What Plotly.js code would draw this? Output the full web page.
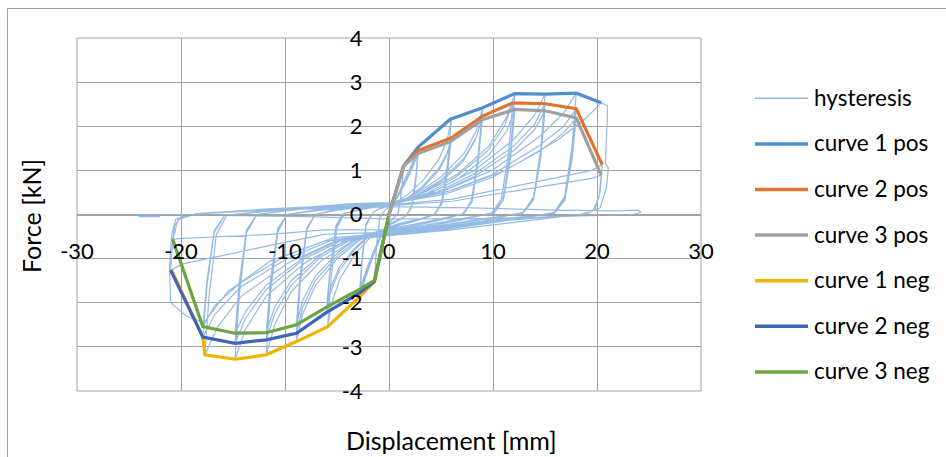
<!DOCTYPE html>
<html>
<head>
<meta charset="utf-8">
<script src="https://cdn.plot.ly/plotly-3.0.1.min.js"></script>
<style>
  html, body { margin: 0; padding: 0; background: #fff; }
  #chart { width: 946px; height: 457px; }
</style>
</head>
<body>
<div id="chart"></div>
<script>
// Cyclic test: displacement [mm] vs force [kN], one row per loading cycle
const hysteresisX = [
  [0, 0.5, 1.0, 1.4, 1.2, 0.9, 0.4, 0, -0.5, -1.0, -1.4, -1.2, -0.9, -0.4, 0],
  [0.5, 1.0, 1.4, 1.2, 0.9, 0.4, 0, -0.5, -1.0, -1.4, -1.2, -0.9, -0.4, 0],
  [0.5, 1.0, 1.4, 1.2, 0.9, 0.4, 0, -0.5, -1.0, -1.4, -1.2, -0.9, -0.4, 0],
  [0.8, 1.5, 2.2, 2.8, 2.6, 2.2, 1.6, 0.8, 0, -0.8, -1.5, -2.2, -2.8, -2.6, -2.2, -1.5, -0.8, 0],
  [0.8, 1.5, 2.2, 2.8, 2.6, 2.2, 1.6, 0.8, 0, -0.8, -1.5, -2.2, -2.8, -2.6, -2.2, -1.5, -0.8, 0],
  [0.8, 1.5, 2.2, 2.8, 2.6, 2.2, 1.6, 0.8, 0, -0.8, -1.5, -2.2, -2.8, -2.6, -2.2, -1.5, -0.8, 0],
  [1.8, 3.3, 4.8, 5.6, 6.0, 5.65, 5.1, 4.4, 3.0, 1.0, 0, -1.8, -3.2, -4.7, -5.5, -5.9, -5.55, -5.0, -4.3, -3.0, -1.0, 0],
  [1.8, 3.3, 4.8, 5.6, 6.0, 5.65, 5.1, 4.4, 3.0, 1.0, 0, -1.8, -3.3, -4.8, -5.6, -6.0, -5.65, -5.1, -4.4, -3.0, -1.0, 0],
  [1.8, 3.3, 4.8, 5.5, 5.9, 5.55, 5.0, 4.3, 3.0, 1.0, 0, -1.8, -3.3, -4.8, -5.6, -6.0, -5.65, -5.1, -4.4, -3.0, -1.0, 0],
  [2.7, 5.0, 7.2, 8.4, 9.0, 8.6, 8.0, 7.2, 5.0, 2.0, 0, -2.7, -4.9, -7.1, -8.3, -8.9, -8.55, -7.9, -7.1, -5.0, -2.0, 0],
  [2.7, 5.0, 7.2, 8.4, 9.0, 8.6, 8.0, 7.2, 5.0, 2.0, 0, -2.7, -4.9, -7.1, -8.3, -8.9, -8.55, -7.9, -7.1, -5.0, -2.0, 0],
  [2.7, 5.0, 7.1, 8.3, 8.9, 8.5, 7.9, 7.1, 5.0, 2.0, 0, -2.7, -4.9, -7.1, -8.3, -8.9, -8.55, -7.9, -7.1, -5.0, -2.0, 0],
  [3.6, 6.6, 9.6, 11.3, 12.1, 11.7, 11.0, 10.1, 7.0, 3.0, 0, -3.5, -6.5, -9.4, -11.0, -11.8, -11.4, -10.7, -9.8, -6.5, -3.0, 0],
  [3.6, 6.5, 9.5, 11.1, 11.9, 11.5, 10.8, 9.9, 7.0, 3.0, 0, -3.5, -6.5, -9.4, -11.0, -11.8, -11.4, -10.7, -9.8, -6.5, -3.0, 0],
  [3.6, 6.6, 9.6, 11.3, 12.1, 11.7, 11.0, 10.1, 7.0, 3.0, 0, -3.5, -6.5, -9.4, -11.0, -11.8, -11.4, -10.7, -9.8, -6.5, -3.0, 0],
  [4.5, 8.2, 12.0, 14.0, 15.0, 14.6, 13.9, 12.9, 9.0, 4.0, 0, -4.4, -8.1, -11.8, -13.8, -14.8, -14.4, -13.7, -12.7, -8.5, -4.0, 0],
  [4.5, 8.2, 12.0, 14.0, 15.0, 14.6, 13.9, 12.9, 9.0, 4.0, 0, -4.4, -8.1, -11.8, -13.8, -14.8, -14.4, -13.7, -12.7, -8.5, -4.0, 0],
  [4.5, 8.2, 12.0, 14.0, 15.0, 14.6, 13.9, 12.9, 9.0, 4.0, 0, -4.4, -8.1, -11.8, -13.8, -14.8, -14.4, -13.7, -12.7, -8.5, -4.0, 0],
  [5.4, 9.9, 14.4, 16.8, 18.0, 17.6, 16.9, 15.9, 11.0, 5.0, 0, -5.3, -9.7, -14.2, -16.5, -17.7, -17.3, -16.6, -15.6, -10.5, -5.0, 0],
  [5.4, 9.9, 14.4, 16.8, 18.0, 17.6, 16.9, 15.9, 11.0, 5.0, 0, -5.4, -9.8, -14.3, -16.7, -17.9, -17.5, -16.8, -15.8, -10.5, -5.0, 0],
  [5.4, 9.9, 14.4, 16.8, 18.0, 17.6, 16.9, 15.9, 11.0, 5.0, 0, -5.4, -9.8, -14.3, -16.7, -17.9, -17.5, -16.8, -15.8, -10.5, -5.0, 0],
  [6.1, 11.2, 16.3, 19.0, 20.4, 21.0, 21.0, 20.8, 21.1, 20.9, 20.3, 19.0, 13.0, 6.0, 0, -6.2, -11.4, -15.5, -17.8, -19.5, -21.0, -21.1, -20.9, -20.5, -18.5, -12.0, -5.0, 0],
  [6.1, 11.2, 16.3, 19.5, 20.5, 20.3, 19.8, 18.5, 12.0, 5.0, 0, -6.2, -11.4, -16.5, -19.8, -21.0, -20.8, -20.3, -18.5, -12.0, -5.0, 0],
  [6.1, 11.2, 16.3, 19.5, 20.4, 20.2, 19.6, 18.3, 12.0, 5.0, 0, -6.2, -11.4, -16.5, -19.8, -20.8, -20.6, -20.0, -18.0, -12.0, -5.0, 0],
  [8.0, 16.0, 22.0, 24.0, 24.2, 23.5, 16.0, 8.0, 0, -8.0, -16.0, -22.0, -24.2, -24.0, -22.0]
];
const hysteresisY = [
  [0, 0.42, 0.82, 1.10, 0.55, 0.05, -0.1, -0.18, -0.6, -1.1, -1.50, -0.75, -0.08, 0.1, 0.15],
  [0.4, 0.78, 1.08, 0.52, 0.05, -0.1, -0.2, -0.55, -1.05, -1.52, -0.72, -0.08, 0.1, 0.16],
  [0.38, 0.75, 1.06, 0.5, 0.04, -0.1, -0.2, -0.52, -1.0, -1.49, -0.7, -0.07, 0.1, 0.16],
  [0.42, 0.78, 1.15, 1.53, 0.9, 0.2, -0.04, -0.15, -0.25, -0.52, -0.92, -1.4, -1.86, -1.1, -0.25, 0.05, 0.15, 0.2],
  [0.4, 0.72, 1.08, 1.45, 0.85, 0.18, -0.04, -0.14, -0.24, -0.5, -0.88, -1.33, -1.77, -1.05, -0.22, 0.05, 0.14, 0.19],
  [0.38, 0.68, 1.02, 1.38, 0.8, 0.16, -0.04, -0.13, -0.22, -0.48, -0.84, -1.27, -1.69, -1.0, -0.2, 0.05, 0.14, 0.18],
  [0.45, 0.78, 1.25, 1.7, 2.16, 1.2, 0.3, 0.0, -0.12, -0.25, -0.32, -0.52, -0.88, -1.45, -2.0, -2.54, -1.4, -0.3, 0.02, 0.12, 0.22, 0.25],
  [0.38, 0.66, 1.05, 1.4, 1.74, 1.0, 0.25, 0.0, -0.1, -0.22, -0.3, -0.46, -0.8, -1.28, -1.75, -2.22, -1.28, -0.28, 0.02, 0.1, 0.2, 0.22],
  [0.35, 0.62, 1.0, 1.32, 1.65, 0.95, 0.22, 0.0, -0.1, -0.2, -0.28, -0.44, -0.76, -1.2, -1.65, -2.10, -1.2, -0.25, 0.02, 0.1, 0.18, 0.2],
  [0.48, 0.85, 1.38, 1.9, 2.42, 1.35, 0.35, 0.02, -0.12, -0.28, -0.38, -0.56, -0.98, -1.62, -2.25, -2.88, -1.6, -0.35, 0.0, 0.12, 0.22, 0.25],
  [0.44, 0.78, 1.27, 1.75, 2.23, 1.25, 0.3, 0.02, -0.1, -0.25, -0.35, -0.52, -0.92, -1.5, -2.1, -2.69, -1.5, -0.32, 0.0, 0.1, 0.2, 0.22],
  [0.42, 0.74, 1.2, 1.68, 2.14, 1.2, 0.28, 0.02, -0.1, -0.24, -0.33, -0.48, -0.86, -1.4, -1.95, -2.5, -1.4, -0.3, 0.0, 0.1, 0.18, 0.2],
  [0.52, 0.92, 1.55, 2.2, 2.74, 1.5, 0.4, 0.05, -0.12, -0.3, -0.42, -0.6, -1.05, -1.75, -2.5, -3.18, -1.8, -0.4, 0.0, 0.12, 0.22, 0.25],
  [0.47, 0.86, 1.45, 2.0, 2.53, 1.4, 0.35, 0.03, -0.1, -0.28, -0.4, -0.55, -0.95, -1.6, -2.25, -2.84, -1.6, -0.35, 0.0, 0.1, 0.2, 0.22],
  [0.44, 0.8, 1.35, 1.88, 2.38, 1.3, 0.32, 0.03, -0.1, -0.26, -0.38, -0.52, -0.9, -1.5, -2.1, -2.68, -1.5, -0.32, 0.0, 0.1, 0.18, 0.2],
  [0.55, 1.0, 1.7, 2.25, 2.73, 1.5, 0.4, 0.05, -0.15, -0.32, -0.45, -0.62, -1.1, -1.85, -2.6, -3.28, -1.85, -0.42, 0.0, 0.14, 0.24, 0.27],
  [0.5, 0.92, 1.55, 2.05, 2.51, 1.4, 0.36, 0.03, -0.12, -0.3, -0.42, -0.57, -1.0, -1.7, -2.35, -2.92, -1.65, -0.38, 0.0, 0.12, 0.22, 0.24],
  [0.47, 0.86, 1.45, 1.92, 2.35, 1.3, 0.33, 0.03, -0.1, -0.28, -0.4, -0.54, -0.95, -1.6, -2.2, -2.69, -1.55, -0.35, 0.0, 0.12, 0.2, 0.22],
  [0.55, 1.0, 1.75, 2.3, 2.75, 1.55, 0.42, 0.05, -0.15, -0.35, -0.48, -0.62, -1.1, -1.85, -2.55, -3.18, -1.85, -0.45, -0.02, 0.12, 0.22, 0.26],
  [0.5, 0.9, 1.55, 2.0, 2.4, 1.35, 0.36, 0.03, -0.12, -0.32, -0.45, -0.57, -1.0, -1.65, -2.25, -2.78, -1.6, -0.4, -0.02, 0.1, 0.2, 0.24],
  [0.46, 0.84, 1.42, 1.85, 2.19, 1.25, 0.32, 0.03, -0.1, -0.3, -0.42, -0.53, -0.92, -1.55, -2.05, -2.54, -1.5, -0.37, -0.02, 0.1, 0.18, 0.22],
  [0.55, 1.0, 1.7, 2.2, 2.53, 2.47, 2.2, 1.16, 1.05, 0.6, 0.15, 0.02, -0.15, -0.35, -0.48, -0.6, -1.05, -1.75, -2.45, -2.3, -2.0, -1.2, -0.45, -0.1, 0.02, 0.12, 0.2, 0.22],
  [0.35, 0.6, 0.85, 1.0, 1.13, 0.5, 0.1, 0.0, -0.12, -0.3, -0.4, -0.45, -0.7, -0.95, -1.12, -1.26, -0.6, -0.12, 0.02, 0.1, 0.18, 0.2],
  [0.3, 0.5, 0.7, 0.82, 0.89, 0.4, 0.08, 0.0, -0.1, -0.28, -0.35, -0.35, -0.45, -0.5, -0.54, -0.56, -0.25, -0.05, 0.02, 0.1, 0.15, 0.18],
  [0.15, 0.1, 0.08, 0.1, 0.05, 0.0, -0.05, -0.1, -0.1, -0.05, -0.02, 0.0, 0.0, -0.05, -0.05]
];

// Envelope curves: peak force of the 1st, 2nd and 3rd cycle at each amplitude
const curve1PosX = [0, 1.4, 2.8, 5.9, 9.0, 12.1, 15.0, 18.0, 20.4];
const curve1PosY = [0, 1.10, 1.53, 2.16, 2.42, 2.74, 2.73, 2.75, 2.53];
const curve2PosX = [0, 1.4, 2.8, 6.0, 9.0, 11.9, 15.0, 18.0, 20.5];
const curve2PosY = [0, 1.10, 1.45, 1.74, 2.23, 2.53, 2.51, 2.40, 1.13];
const curve3PosX = [0, 1.4, 2.8, 5.9, 8.9, 12.1, 15.0, 18.0, 20.4];
const curve3PosY = [0, 1.10, 1.38, 1.65, 2.14, 2.38, 2.35, 2.19, 0.89];
const curve1NegX = [0, -1.4, -2.8, -5.9, -8.9, -11.8, -14.8, -17.7, -17.9, -20.9];
const curve1NegY = [0, -1.52, -1.86, -2.54, -2.88, -3.18, -3.28, -3.18, -2.78, -1.26];
const curve2NegX = [0, -1.4, -2.8, -6.0, -8.9, -11.8, -14.8, -17.9, -21.0];
const curve2NegY = [0, -1.52, -1.77, -2.22, -2.69, -2.84, -2.92, -2.78, -1.26];
const curve3NegX = [0, -1.4, -2.8, -6.0, -8.9, -11.8, -14.8, -17.9, -20.8];
const curve3NegY = [0, -1.49, -1.69, -2.10, -2.50, -2.68, -2.69, -2.54, -0.56];

const seriesNames = ['hysteresis', 'curve 1 pos', 'curve 2 pos', 'curve 3 pos', 'curve 1 neg', 'curve 2 neg', 'curve 3 neg'];
const seriesColors = ['#95BBE5', '#4F8FCB', '#E27230', '#A0A0A0', '#F2B300', '#3F65B5', '#6AA443'];

const xTickValues = [-30, -20, -10, 0, 10, 20, 30];
const xTickLabels = ['-30', '-20', '-10', '0', '10', '20', '30'];
const yTickValues = [-4, -3, -2, -1, 0, 1, 2, 3, 4];
const yTickLabels = ['-4', '-3', '-2', '-1', '0', '1', '2', '3', '4'];

const xTitle = 'Displacement [mm]';
const yTitle = 'Force [kN]';

const FONT = 'Lato, "Open Sans", sans-serif';
const GRID = '#A3A3A3';

const envelopes = [
  [curve1PosX, curve1PosY], [curve2PosX, curve2PosY], [curve3PosX, curve3PosY],
  [curve1NegX, curve1NegY], [curve2NegX, curve2NegY], [curve3NegX, curve3NegY]
];

const traces = [{
  type: 'scatter', mode: 'lines', name: seriesNames[0],
  x: hysteresisX.flat(), y: hysteresisY.flat(),
  line: { color: seriesColors[0], width: 1.2 }, hoverinfo: 'skip'
}];
envelopes.forEach(function (e, i) {
  traces.push({
    type: 'scatter', mode: 'lines', name: seriesNames[i + 1],
    x: e[0], y: e[1],
    line: { color: seriesColors[i + 1], width: 3.2 }
  });
});

// Plot-area geometry in pixels, used to place the legend and frame
const L = 77, T = 38, W = 624, H = 353;
const px = function (p) { return (p - L) / W; };
const py = function (p) { return (T + H - p) / H; };

const shapes = [
  { type: 'rect', xref: 'paper', yref: 'paper', x0: 0, x1: 1, y0: 0, y1: 1,
    line: { color: GRID, width: 1 }, layer: 'below' },
  // outer chart frame
  { type: 'rect', xref: 'paper', yref: 'paper', x0: px(7.5), x1: px(1000), y0: py(600), y1: py(8.5),
    line: { color: '#A0A0A0', width: 1 }, layer: 'below' }
];
const annotations = [
  { xref: 'paper', yref: 'paper', x: px(451), y: py(440), text: xTitle, showarrow: false,
    xanchor: 'center', yanchor: 'middle', font: { family: FONT, size: 25, color: '#000' } },
  { xref: 'paper', yref: 'paper', x: px(31), y: py(216), text: yTitle, showarrow: false, textangle: -90,
    xanchor: 'center', yanchor: 'middle', font: { family: FONT, size: 25, color: '#000' } }
];

// Legend: a line sample and a label per series
const legendTop = 98.3, legendStep = 45.6;
seriesNames.forEach(function (name, i) {
  const y = legendTop + i * legendStep;
  shapes.push({ type: 'line', xref: 'paper', yref: 'paper',
    x0: px(755), x1: px(808), y0: py(y), y1: py(y),
    line: { color: seriesColors[i], width: i === 0 ? 1.5 : 3.5 } });
  annotations.push({ xref: 'paper', yref: 'paper', x: px(812), y: py(y - 1), text: name, showarrow: false,
    xanchor: 'left', yanchor: 'middle', font: { family: FONT, size: 22.5, color: '#000' } });
});

const layout = {
  width: 946, height: 457,
  margin: { l: L, r: 946 - L - W, t: T, b: 457 - T - H, pad: 0 },
  paper_bgcolor: '#fff', plot_bgcolor: '#fff',
  showlegend: false,
  xaxis: {
    range: [-30, 30], tickmode: 'array', tickvals: xTickValues, ticktext: xTickLabels,
    showgrid: true, gridcolor: GRID, gridwidth: 1, zeroline: false,
    showline: true, linecolor: GRID, linewidth: 1,
    anchor: 'free', position: 0.5, ticks: '', ticklabelstandoff: 17,
    tickfont: { family: FONT, size: 22, color: '#000' }, fixedrange: true
  },
  yaxis: {
    range: [-4, 4], tickmode: 'array', tickvals: yTickValues, ticktext: yTickLabels,
    showgrid: true, gridcolor: GRID, gridwidth: 1, zeroline: false,
    showline: true, linecolor: GRID, linewidth: 1,
    anchor: 'free', position: 0.5, ticks: '', ticklabelstandoff: 22,
    tickfont: { family: FONT, size: 22, color: '#000' }, fixedrange: true
  },
  shapes: shapes,
  annotations: annotations
};

Plotly.newPlot('chart', traces, layout, { displayModeBar: false, staticPlot: true });
</script>
</body>
</html>
